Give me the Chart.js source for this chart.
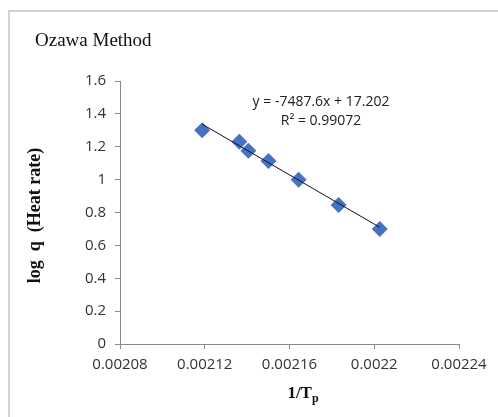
<!DOCTYPE html>
<html>
<head>
<meta charset="utf-8">
<script src="https://cdn.jsdelivr.net/npm/chart.js@4/dist/chart.umd.min.js"></script>
<style>
  html, body { margin: 0; padding: 0; background: #fff; }
  #wrap { position: relative; width: 498px; height: 417px; overflow: hidden; }
  #frame { position: absolute; left: 8px; top: 10px; width: 600px; height: 500px;
           border-left: 2px solid #d2d2d2; border-top: 2px solid #d2d2d2; }
  canvas { position: absolute; left: 0; top: 0; }
</style>
</head>
<body>
<div id="wrap">
  <div id="frame"></div>
  <canvas id="c" width="498" height="417"></canvas>
</div>
<script>
// ---- data ----
const invTp = [0.0021188, 0.0021363, 0.0021406, 0.0021501, 0.0021643, 0.0021832, 0.0022026];
const logQ  = [1.301, 1.230, 1.176, 1.114, 1.000, 0.845, 0.699];
const trendSlope = -7487.6;
const trendIntercept = 17.202;
const rSquared = 0.99072;
const xTickValues = [0.00208, 0.00212, 0.00216, 0.00220, 0.00224];
const xTickLabels = ['0.00208', '0.00212', '0.00216', '0.0022', '0.00224'];
const yTickValues = [0, 0.2, 0.4, 0.6, 0.8, 1.0, 1.2, 1.4, 1.6];
const yTickLabels = ['0', '0.2', '0.4', '0.6', '0.8', '1', '1.2', '1.4', '1.6'];
const chartTitle = 'Ozawa Method';
const yTitle = 'log  q  (Heat rate)';
const xTitleMain = '1/T';
const xTitleSub = 'p';

const xFirst = Math.min(...invTp), xLast = Math.max(...invTp);
const trendPoints = [
  { x: xFirst, y: trendSlope * xFirst + trendIntercept },
  { x: xLast,  y: trendSlope * xLast + trendIntercept }
];
const points = invTp.map((x, i) => ({ x, y: logQ[i] }));

const axisColor = '#8a8a8a';
const tickFont = { family: '"Open Sans", sans-serif', size: 15 };

const decor = {
  id: 'decor',
  afterDraw(chart) {
    const ctx = chart.ctx;
    const ca = chart.chartArea;
    ctx.save();
    ctx.fillStyle = '#111';
    // title
    ctx.font = '19px "Liberation Serif", serif';
    ctx.textAlign = 'left';
    ctx.textBaseline = 'middle';
    ctx.fillText(chartTitle, 35, 41);
    // equation
    ctx.fillStyle = '#222';
    ctx.font = '14px "Open Sans", sans-serif';
    ctx.textAlign = 'center';
    const eq = 'y = ' + (trendSlope < 0 ? '-' : '') + Math.abs(trendSlope) + 'x + ' + trendIntercept;
    const cx = ca.left + 201;
    ctx.fillText(eq, cx, ca.top + 21);
    ctx.fillText('R\u00B2 = ' + rSquared, cx, ca.top + 40);
    // y title
    ctx.fillStyle = '#111';
    ctx.font = 'bold 18px "Liberation Serif", serif';
    ctx.translate(35, (ca.top + ca.bottom) / 2 + 3);
    ctx.rotate(-Math.PI / 2);
    ctx.textAlign = 'center';
    ctx.fillText(yTitle, 0, 0);
    ctx.setTransform(1, 0, 0, 1, 0, 0);
    // x title with subscript
    ctx.font = 'bold 17px "Liberation Serif", serif';
    const wMain = ctx.measureText(xTitleMain).width;
    ctx.font = 'bold 12px "Liberation Serif", serif';
    const wSub = ctx.measureText(xTitleSub).width;
    const startX = 303 - (wMain + wSub) / 2;
    ctx.textAlign = 'left';
    ctx.textBaseline = 'alphabetic';
    ctx.font = 'bold 17px "Liberation Serif", serif';
    ctx.fillText(xTitleMain, startX, 398);
    ctx.font = 'bold 12px "Liberation Serif", serif';
    ctx.fillText(xTitleSub, startX + wMain, 402);
    ctx.restore();
  }
};

new Chart(document.getElementById('c'), {
  type: 'scatter',
  data: {
    datasets: [
      {
        type: 'line',
        data: trendPoints,
        borderColor: '#111',
        borderWidth: 1,
        pointRadius: 0,
        fill: false
      },
      {
        data: points,
        pointStyle: 'rectRot',
        pointRadius: 8,
        pointHoverRadius: 8,
        backgroundColor: '#4472c4',
        borderColor: '#4472c4',
        borderWidth: 0
      }
    ]
  },
  options: {
    responsive: false,
    animation: false,
    events: [],
    layout: { padding: { left: 0, right: 39, top: 81, bottom: 0 } },
    plugins: { legend: { display: false }, tooltip: { enabled: false }, title: { display: false } },
    scales: {
      x: {
        type: 'linear',
        min: 0.00208, max: 0.00224,
        afterBuildTicks: s => { s.ticks = xTickValues.map(v => ({ value: v })); },
        afterFit: s => { s.height = 73; },
        ticks: {
          font: tickFont, color: '#333', padding: 7, maxRotation: 0, autoSkip: false,
          callback: (v, i) => xTickLabels[i]
        },
        grid: { display: true, drawOnChartArea: false, tickLength: 5, color: axisColor },
        border: { color: axisColor, width: 1 }
      },
      y: {
        type: 'linear',
        min: 0, max: 1.6,
        afterBuildTicks: s => { s.ticks = yTickValues.map(v => ({ value: v })); },
        afterFit: s => { s.width = 120; },
        ticks: {
          font: tickFont, color: '#333', padding: 9, autoSkip: false,
          callback: (v, i) => yTickLabels[i]
        },
        grid: { display: true, drawOnChartArea: false, tickLength: 5, color: axisColor },
        border: { color: axisColor, width: 1 }
      }
    }
  },
  plugins: [decor]
});
</script>
</body>
</html>
